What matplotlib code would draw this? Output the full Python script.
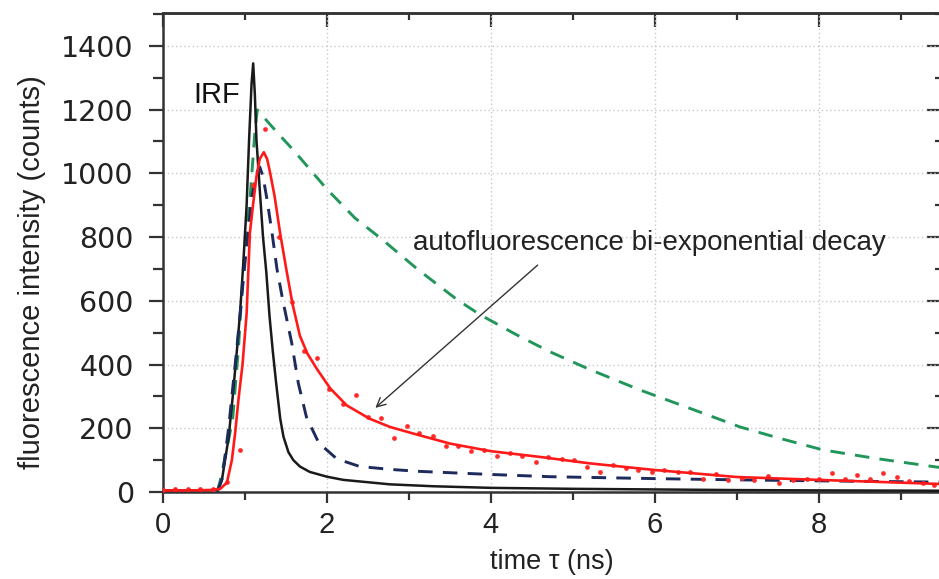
import matplotlib
matplotlib.use("Agg")
import matplotlib.pyplot as plt
from matplotlib.ticker import MultipleLocator
from matplotlib import font_manager

# ---------------- data ----------------
irf_t = [0.0, 0.3, 0.6, 0.68, 0.72, 0.80, 0.85, 0.90, 0.94, 0.98, 1.02, 1.05, 1.08,
         1.10, 1.12, 1.14, 1.18, 1.22, 1.26, 1.30, 1.34, 1.38, 1.43, 1.47, 1.53,
         1.59, 1.67, 1.79, 2.0, 2.2, 2.77, 3.3, 4.0, 5.0, 6.0, 7.0, 8.0, 9.5]
irf_y = [5, 5, 6, 10, 40, 170, 298, 440, 562, 720, 900, 1105, 1280,
         1345, 1250, 1105, 950, 800, 690, 550, 440, 342, 230, 173, 125,
         100, 80, 63, 48, 38, 24, 18, 13, 10, 8, 6, 5, 4]

fit_t = [0.0, 0.3, 0.6, 0.70, 0.78, 0.84, 0.88, 0.92, 0.97, 1.02, 1.06, 1.10, 1.14,
         1.18, 1.23, 1.27, 1.30, 1.36, 1.43, 1.51, 1.58, 1.67, 1.76, 1.88, 2.04,
         2.24, 2.52, 2.77, 3.1, 3.5, 4.0, 4.6, 5.2, 6.0, 7.0, 8.0, 9.5]
fit_y = [5, 5, 6, 10, 30, 100, 185, 289, 400, 560, 813, 905, 990,
         1045, 1066, 1045, 1010, 930, 810, 690, 590, 490, 435, 385, 325,
         272, 230, 204, 180, 152, 128, 110, 90, 69, 47, 38, 25]

biexp_t = [0.66, 0.72, 0.80, 0.90, 1.00, 1.08, 1.14, 1.18, 1.22, 1.27, 1.33,
           1.39, 1.46, 1.57, 1.65, 1.75, 1.90, 2.12, 2.40, 2.77, 3.1, 4.0,
           4.72, 6.0, 7.04, 8.0, 9.5]
biexp_y = [0, 40, 200, 450, 720, 920, 1000, 1020, 990, 916, 813,
           700, 603, 468, 342, 235, 154, 104, 80, 71, 65, 55,
           48, 42, 38, 35, 31]

mono_t = [0.66, 0.70, 0.76, 0.85, 0.92, 0.98, 1.02, 1.06, 1.12, 1.15, 1.30, 1.45,
          1.60, 1.80, 2.0, 2.34, 2.68, 3.1, 3.59, 3.87, 4.3, 4.72, 5.2, 5.82,
          6.4, 7.04, 7.5, 8.05, 8.7, 9.5]
mono_y = [0, 38, 110, 230, 450, 700, 813, 916, 1126, 1199, 1155, 1112,
          1070, 1010, 950, 860, 791, 700, 603, 556, 495, 440, 385, 320,
          265, 204, 170, 132, 105, 76]

dots_t = [0.0, 0.15, 0.30, 0.45, 0.61, 0.78, 0.94, 1.10, 1.24, 1.42, 1.57, 1.72,
          1.88, 2.02, 2.19, 2.35, 2.50, 2.66, 2.82, 2.98, 3.12, 3.29, 3.45,
          3.60, 3.76, 3.91, 4.07, 4.23, 4.38, 4.55, 4.70, 4.87, 5.01, 5.17,
          5.33, 5.49, 5.65, 5.80, 5.96, 6.11, 6.28, 6.43, 6.59, 6.74, 6.89,
          7.06, 7.21, 7.38, 7.52, 7.68, 7.85, 8.00, 8.16, 8.32, 8.46, 8.63,
          8.78, 8.95, 9.10, 9.27, 9.41]
dots_y = [6, 8, 9, 8, 10, 31, 132, 964, 1139, 800, 595, 441,
          420, 323, 277, 304, 235, 233, 169, 207, 185, 176, 144,
          144, 129, 132, 113, 122, 113, 94, 110, 104, 100, 78,
          63, 85, 75, 69, 63, 69, 63, 63, 41, 56, 38,
          44, 38, 50, 28, 38, 41, 41, 60, 41, 53, 41,
          60, 47, 35, 28, 22]

x_major = [0, 2, 4, 6, 8]
y_major = [0, 200, 400, 600, 800, 1000, 1200, 1400]

# ---------------- fonts ----------------
names = {f.name for f in font_manager.fontManager.ttflist}
sans = "Liberation Sans" if "Liberation Sans" in names else "DejaVu Sans"
narrow = "Liberation Sans Narrow" if "Liberation Sans Narrow" in names else sans

W, H = 939, 579
fig = plt.figure(figsize=(W / 100, H / 100), dpi=100)
ax = fig.add_axes([163 / W, 1 - 492 / H, (941 - 163) / W, (492 - 13) / H])

ax.set_xlim(0, 9.49)
ax.set_ylim(0, 1503)

ax.grid(True, which="major", color="#c8c8c8", linestyle=(0, (1, 2)), linewidth=1.0)
ax.set_axisbelow(True)

ax.plot(mono_t, mono_y, color="#22965a", lw=2.1, dashes=(5, 3.5), zorder=3)
ax.plot(irf_t, irf_y, color="#1a1a1a", lw=1.8, zorder=4)
ax.plot(biexp_t, biexp_y, color="#1c2a5c", lw=2.1, dashes=(5, 3.5), zorder=5)
ax.plot(dots_t, dots_y, linestyle="none", marker="o", ms=3.4, color="#ff2a2a",
        markeredgewidth=0, zorder=6)
ax.plot(fit_t, fit_y, color="#ff1a1a", lw=1.9, zorder=7)

ax.text(0.37, 1246, "IRF", fontsize=21, family=sans, color="#111111",
        ha="left", va="center")
ax.text(3.05, 781, "autofluorescence bi-exponential decay", fontsize=20,
        family=sans, color="#222222", ha="left", va="center")
ax.annotate("", xy=(2.59, 264), xytext=(4.57, 712),
            arrowprops=dict(arrowstyle="->", color="#333333", lw=1.0,
                            shrinkA=0, shrinkB=0, mutation_scale=16))

# ticks
ax.set_xticks(x_major)
ax.set_yticks(y_major)
ax.xaxis.set_minor_locator(MultipleLocator(1))
ax.yaxis.set_minor_locator(MultipleLocator(100))
ax.tick_params(which="both", direction="out", width=1.6, color="#333333")
ax.tick_params(axis="y", which="major", length=10, pad=11, labelsize=20.5)
ax.tick_params(axis="y", which="minor", length=7)
ax.tick_params(axis="x", which="major", length=8, pad=6, labelsize=21)
ax.tick_params(axis="x", which="minor", length=6)
for lab in ax.get_yticklabels():
    lab.set_family("DejaVu Sans")
    lab.set_color("#222222")
for lab in ax.get_xticklabels():
    lab.set_family(narrow)
    lab.set_color("#222222")

for s in ax.spines.values():
    s.set_linewidth(1.8)
    s.set_color("#333333")

top = ax.secondary_xaxis("top")
top.xaxis.set_major_locator(MultipleLocator(2))
top.xaxis.set_minor_locator(MultipleLocator(1))
top.tick_params(which="both", direction="in", width=1.6, color="#333333", labeltop=False)
top.tick_params(which="major", length=10)
top.tick_params(which="minor", length=5)
top.spines["top"].set_linewidth(1.8)
top.spines["top"].set_color("#333333")

right = ax.secondary_yaxis("right")
right.yaxis.set_major_locator(MultipleLocator(200))
right.yaxis.set_minor_locator(MultipleLocator(100))
right.tick_params(which="both", direction="in", width=1.6, color="#333333", labelright=False)
right.tick_params(which="major", length=10)
right.tick_params(which="minor", length=4)

ax.set_xlabel("time \u03c4 (ns)", fontsize=19.5, family=sans, color="#222222", labelpad=7)
ax.set_ylabel("fluorescence intensity (counts)", fontsize=21, family=sans,
              color="#222222")
ax.yaxis.set_label_coords(-0.151, 0.46)

fig.savefig("out.png", dpi=100)
